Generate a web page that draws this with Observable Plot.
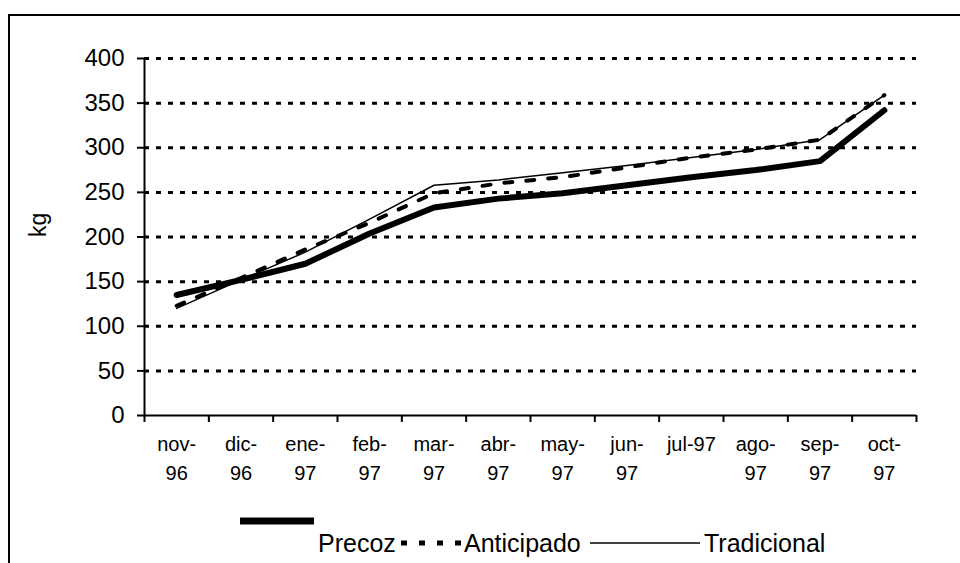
<!DOCTYPE html>
<html><head><meta charset="utf-8">
<script src="https://cdn.jsdelivr.net/npm/d3@7"></script>
<script src="https://cdn.jsdelivr.net/npm/@observablehq/plot@0.6"></script>
<style>
body{margin:0;background:#fff;font-family:"Liberation Sans",Arial,sans-serif;width:960px;height:563px;overflow:hidden;position:relative;}
#frame{position:absolute;left:8px;top:14px;width:1000px;height:600px;border:2px solid #000;}
#chart{position:absolute;left:0;top:0;}
.lg{position:absolute;font-size:25px;line-height:30px;color:#000;white-space:nowrap;}
.lg svg{display:block;}
</style></head><body>
<div id="frame"></div>
<div id="chart"></div>
<div id="legend"></div>
<script>
const months = ["nov-96","dic-96","ene-97","feb-97","mar-97","abr-97","may-97","jun-97","jul-97","ago-97","sep-97","oct-97"];
const monthLabels = ["nov-\n96","dic-\n96","ene-\n97","feb-\n97","mar-\n97","abr-\n97","may-\n97","jun-\n97","jul-97","ago-\n97","sep-\n97","oct-\n97"];
const precoz      = [135, 152, 170, 204, 233, 243, 249, 258, 267, 275, 285, 342];
const anticipado  = [123, 154, 186, 216, 249, 260, 267, 278, 289, 298, 309, 359];
const tradicional = [120, 152, 183, 220, 258, 264, 272, 280, 289, 298, 309, 359];
const yTicks = [0, 50, 100, 150, 200, 250, 300, 350, 400];
const seriesNames = ["Precoz", "Anticipado", "Tradicional"];

const rows = [precoz, anticipado, tradicional].flatMap((vals, k) =>
  vals.map((v, i) => ({serie: seriesNames[k], i, month: months[i], v})));
const bySerie = name => rows.filter(d => d.serie === name);

const chart = Plot.plot({
  width: 960, height: 490,
  marginLeft: 144, marginRight: 44, marginTop: 58, marginBottom: 75,
  style: {fontFamily: "'Liberation Sans', Arial, sans-serif", color: "#000", background: "transparent"},
  x: {type: "linear", domain: [-0.5, months.length - 0.5]},
  y: {domain: [0, 400]},
  marks: [
    Plot.ruleY(yTicks.filter(d => d > 0), {stroke: "#000", strokeWidth: 3, strokeDasharray: "5,7"}),
    Plot.ruleY([0], {stroke: "#000", strokeWidth: 2}),
    Plot.ruleX([-0.5], {y1: 0, y2: 400, stroke: "#000", strokeWidth: 2}),
    Plot.axisY({ticks: yTicks, tickSize: 7, tickPadding: 13, fontSize: 24, strokeWidth: 2, label: null, tickFormat: d => String(d)}),
    Plot.axisX({ticks: d3.range(-0.5, months.length, 1), tickSize: 7, strokeWidth: 2, tickFormat: () => "", label: null}),
    Plot.text(monthLabels, {x: (d, i) => i, frameAnchor: "bottom", lineAnchor: "top", dy: 15, fontSize: 20, lineHeight: 1.45, fill: "#000"}),
    Plot.text(["kg"], {frameAnchor: "left", dx: -106, rotate: -90, fontSize: 23, fill: "#000"}),
    Plot.line(bySerie("Precoz"), {x: "i", y: "v", stroke: "#000", strokeWidth: 6, strokeLinejoin: "miter"}),
    Plot.line(bySerie("Tradicional"), {x: "i", y: "v", stroke: "#000", strokeWidth: 1.5}),
    Plot.line(bySerie("Anticipado"), {x: "i", y: "v", stroke: "#000", strokeWidth: 4, strokeDasharray: "8,14"})
  ]
});
document.getElementById("chart").appendChild(chart);

// legend
const lg = document.getElementById("legend");
function add(html, left, top) {
  const d = document.createElement("div");
  d.className = "lg"; d.style.left = left + "px"; d.style.top = top + "px";
  d.innerHTML = html; lg.appendChild(d);
}
add('<svg width="74" height="8"><line x1="0" x2="74" y1="4" y2="4" stroke="#000" stroke-width="7"/></svg>', 240, 517);
add(seriesNames[0], 318, 528);
add('<svg width="64" height="30"><line x1="2" x2="64" y1="15" y2="15" stroke="#000" stroke-width="5" stroke-dasharray="6,12"/></svg>', 399, 528);
add(seriesNames[1], 464, 528);
add('<svg width="110" height="30"><line x1="0" x2="110" y1="15" y2="15" stroke="#000" stroke-width="1.5"/></svg>', 590, 528);
add(seriesNames[2], 704, 528);
</script>
</body></html>
